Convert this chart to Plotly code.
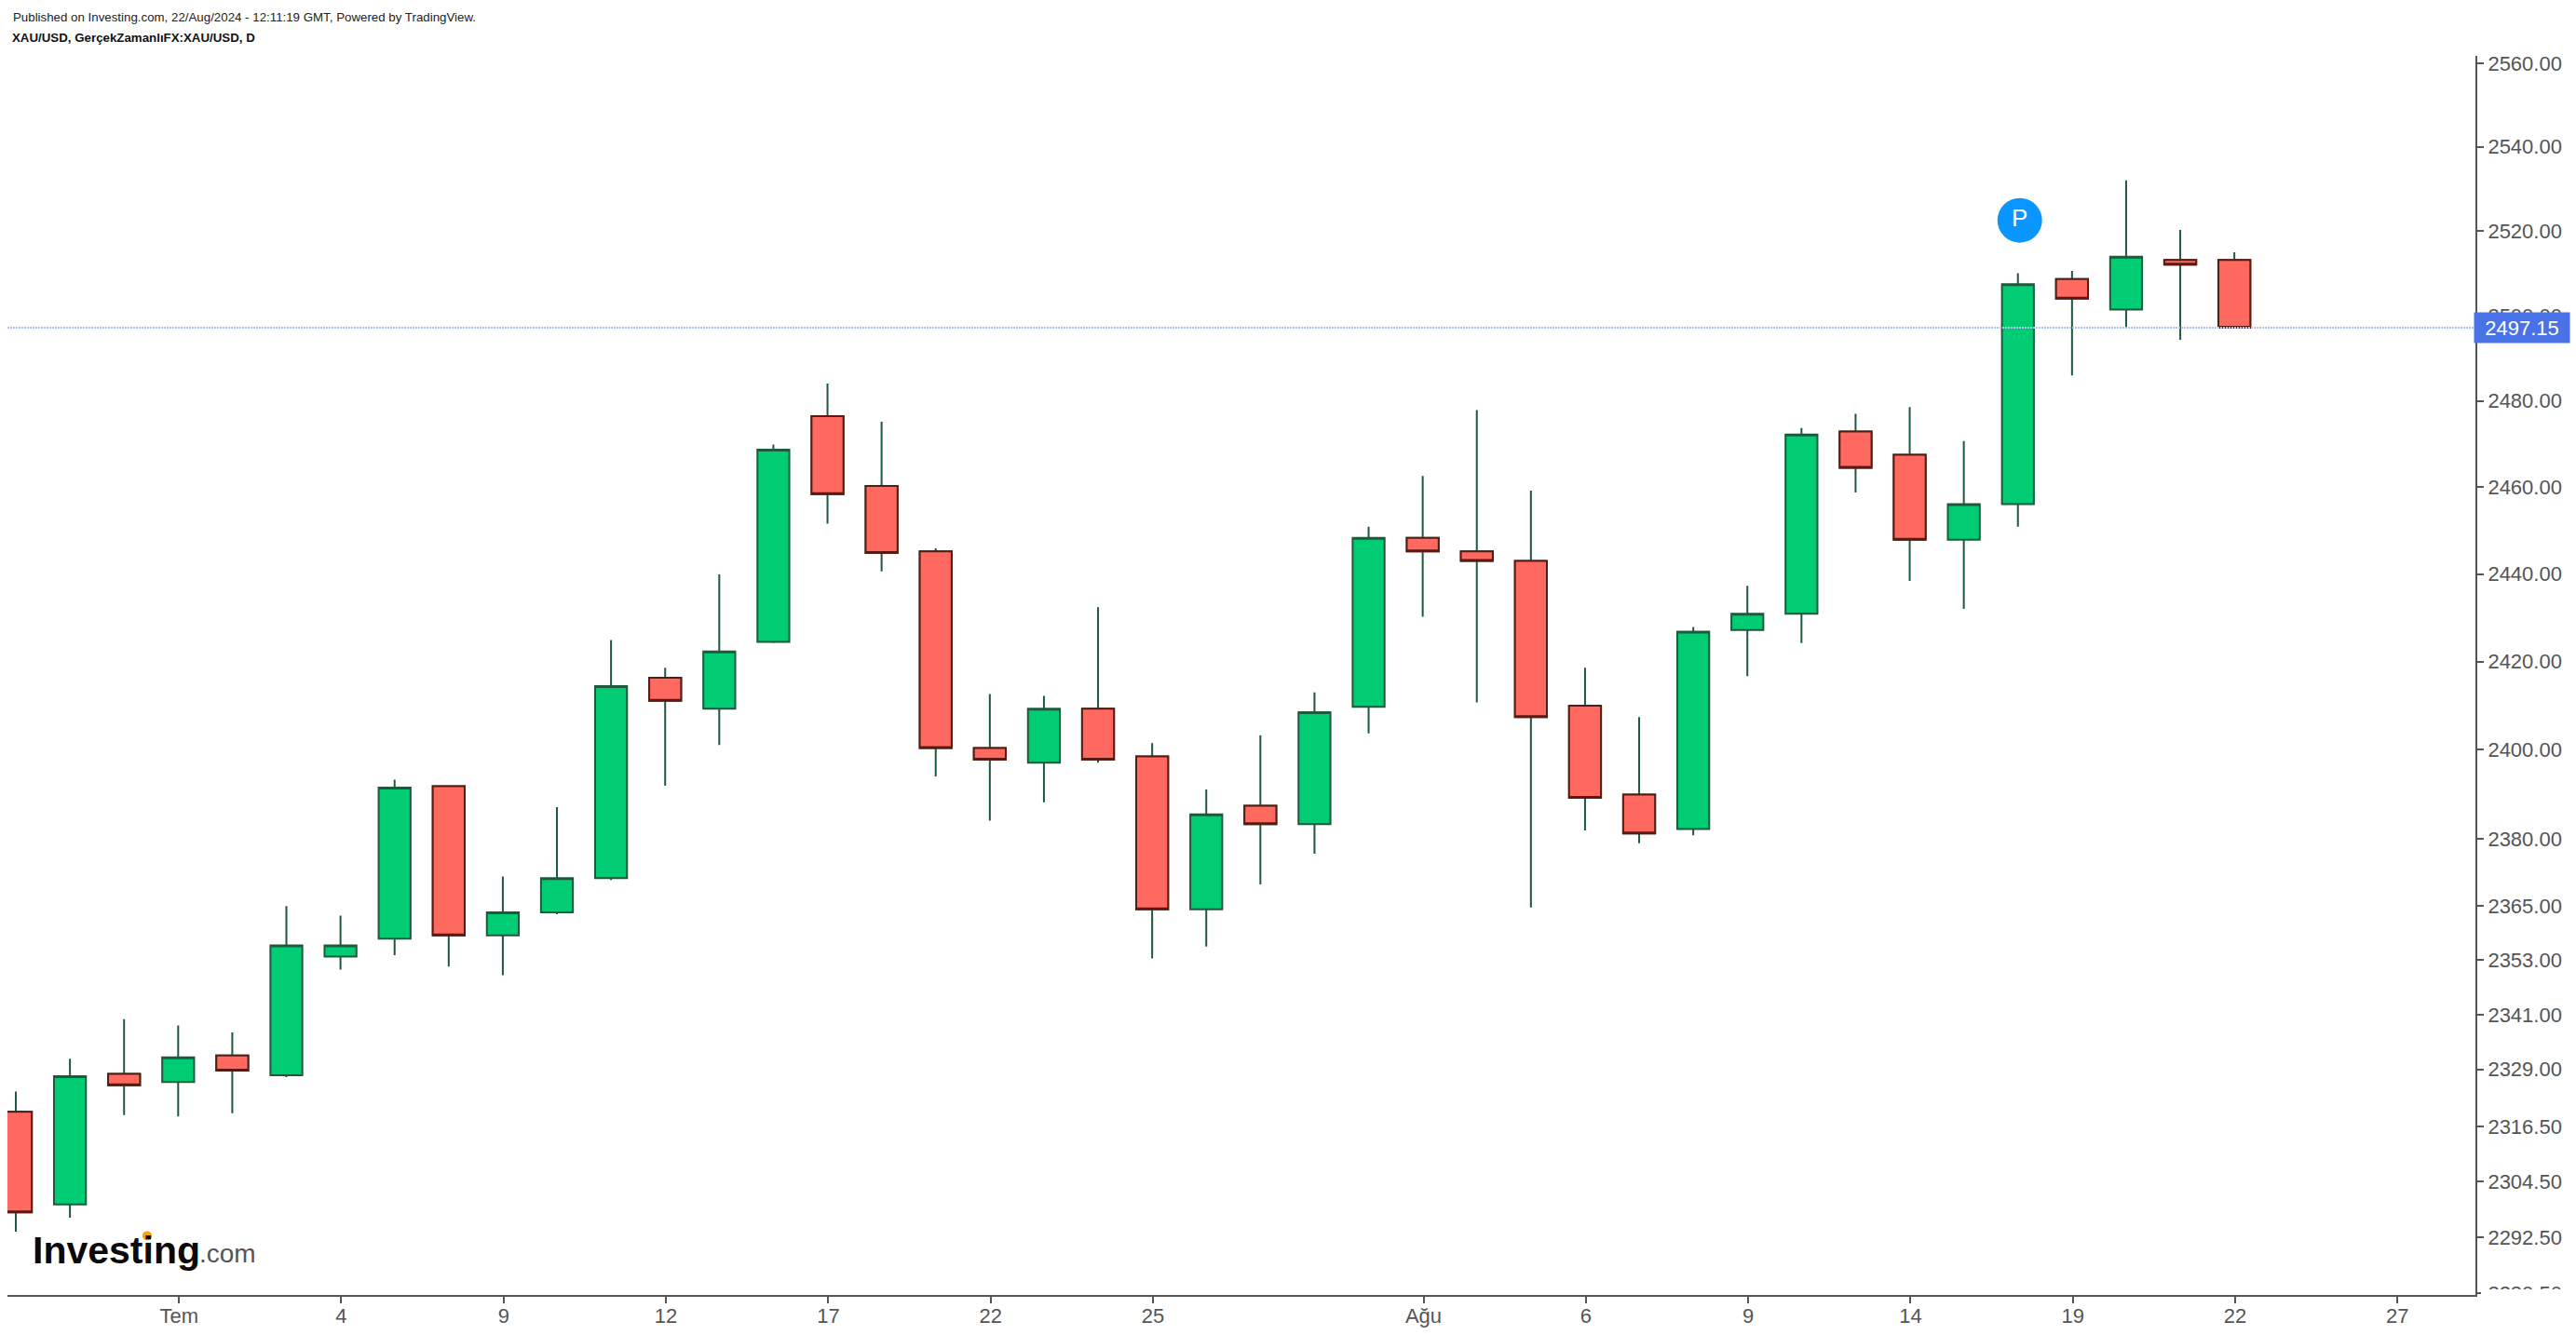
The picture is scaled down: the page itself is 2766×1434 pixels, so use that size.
import math
import pandas as pd
import plotly.graph_objects as go

W, H = 2766, 1434
L, R, T, B = 8, 2658, 60, 1399

# OHLC values (one per trading day, 26 Jun - 22 Aug 2024)
opens = [2319.7, 2299.6, 2328.0, 2326.2, 2332.0, 2327.7, 2353.8, 2357.8, 2391.8, 2358.5, 2363.6,
         2371.2, 2416.3, 2409.3, 2424.5, 2476.5, 2460.3, 2445.2, 2400.4, 2397.1, 2409.3,
         2398.5, 2364.3, 2387.4, 2383.3, 2409.7, 2448.3, 2445.2, 2443.0, 2410.0, 2389.9,
         2382.2, 2427.2, 2430.9, 2472.9, 2467.5, 2447.9, 2456.1, 2508.6, 2501.4, 2513.1, 2513.1]
highs = [2324.1, 2331.3, 2340.0, 2338.6, 2337.1, 2365.0, 2362.9, 2393.3, 2392.0, 2371.6, 2387.1,
         2424.9, 2418.6, 2439.9, 2469.9, 2484.1, 2475.2, 2445.9, 2412.6, 2412.2, 2432.4,
         2401.5, 2391.1, 2403.3, 2413.0, 2450.9, 2462.6, 2477.9, 2459.2, 2418.6, 2407.4,
         2427.9, 2437.3, 2473.7, 2477.0, 2478.6, 2470.7, 2510.0, 2510.5, 2532.0, 2520.2, 2514.9]
lows = [2293.7, 2296.7, 2319.0, 2318.7, 2319.4, 2327.3, 2350.9, 2354.1, 2351.6, 2349.7, 2363.2,
        2370.8, 2391.9, 2401.1, 2424.2, 2451.6, 2440.6, 2394.0, 2384.1, 2388.2, 2397.1,
        2353.4, 2356.0, 2369.8, 2376.7, 2403.7, 2430.2, 2410.7, 2364.7, 2381.9, 2379.0,
        2380.8, 2416.7, 2424.2, 2458.8, 2438.4, 2432.0, 2450.9, 2486.0, 2497.3, 2494.3, 2497.15]
closes = [2297.9, 2327.5, 2325.5, 2331.6, 2328.7, 2356.3, 2356.3, 2391.5, 2358.5, 2363.6, 2371.2,
          2414.4, 2411.1, 2422.3, 2468.7, 2458.4, 2444.8, 2400.4, 2397.8, 2409.3, 2397.8,
          2364.3, 2385.5, 2383.3, 2408.5, 2448.3, 2445.2, 2443.0, 2407.4, 2389.2, 2381.2,
          2426.8, 2430.9, 2472.2, 2464.5, 2447.9, 2456.1, 2507.4, 2504.0, 2513.9, 2512.0, 2497.15]

last_price = 2497.15
marker_day = "2024-08-16"
marker_price = 2522.5

y_ticks = [2560, 2540, 2520, 2500, 2480, 2460, 2440, 2420, 2400, 2380, 2365, 2353, 2341,
           2329, 2316.5, 2304.5, 2292.5, 2280.5]
x_tick_days = ["2024-07-01", "2024-07-04", "2024-07-09", "2024-07-12", "2024-07-17", "2024-07-22",
               "2024-07-25", "2024-08-01", "2024-08-06", "2024-08-09", "2024-08-14", "2024-08-19",
               "2024-08-22", "2024-08-27"]
x_tick_labels = ["Tem", "4", "9", "12", "17", "22", "25", "Ağu", "6", "9", "14", "19", "22", "27"]

# Colours
UP_FILL, UP_LINE = "#00CC73", "#1D5A3C"
DOWN_FILL, DOWN_LINE = "#FF6960", "#5A1A14"
AXIS = "#555555"
FONT = "Liberation Sans, Arial, sans-serif"

days = pd.bdate_range("2024-06-26", "2024-08-27")
pos = {d.strftime("%Y-%m-%d"): i for i, d in enumerate(days)}
xs = list(range(len(opens)))
TICK_SHIFT = 0.015


def px(x):
    return (x - L) / (R - L)


def py(y):
    return 1 - (y - T) / (B - T)


fig = go.Figure()

# all candles: wicks are dark green whichever way the day closed
fig.add_trace(go.Candlestick(
    x=xs, open=opens, high=highs, low=lows, close=closes,
    increasing=dict(line=dict(color=UP_LINE, width=2), fillcolor=UP_FILL),
    decreasing=dict(line=dict(color=UP_LINE, width=2), fillcolor=DOWN_FILL),
    whiskerwidth=0, hoverinfo="skip", showlegend=False))

# falling days: body outline in dark red, drawn on top
dn = [i for i in xs if closes[i] < opens[i]]
fig.add_trace(go.Candlestick(
    x=dn, open=[opens[i] for i in dn], close=[closes[i] for i in dn],
    high=[opens[i] for i in dn], low=[closes[i] for i in dn],
    decreasing=dict(line=dict(color=DOWN_LINE, width=2), fillcolor=DOWN_FILL),
    increasing=dict(line=dict(color=DOWN_LINE, width=2), fillcolor=DOWN_FILL),
    whiskerwidth=0, hoverinfo="skip", showlegend=False))

fig.add_trace(go.Scatter(
    x=[pos[marker_day] + 0.034], y=[marker_price], mode="markers+text", text=["P"],
    textposition="middle center", textfont=dict(color="white", size=26, family=FONT),
    marker=dict(size=48, color="#0A96FF", line=dict(width=0)),
    hoverinfo="skip", showlegend=False))

fig.update_layout(
    width=W, height=H, autosize=False,
    margin=dict(l=L, r=W - R, t=T, b=H - B, pad=0),
    paper_bgcolor="white", plot_bgcolor="white",
    boxmode="overlay", boxgap=0.157,
    font=dict(family=FONT, size=22, color=AXIS),
    showlegend=False,
    xaxis=dict(
        range=[-0.155, 45.455], rangeslider=dict(visible=False),
        tickmode="array", tickvals=[pos[d] + TICK_SHIFT for d in x_tick_days], ticktext=x_tick_labels,
        showgrid=False, zeroline=False, showline=True, linecolor=AXIS, linewidth=2,
        ticks="outside", ticklen=7, tickwidth=2, tickcolor=AXIS, ticklabelstandoff=-5,
        tickfont=dict(size=22, color=AXIS, family=FONT)),
    yaxis=dict(
        type="log", side="right", range=[math.log10(2280.1), math.log10(2561.8)],
        tickmode="array", tickvals=y_ticks, ticktext=[f"{v:.2f}" for v in y_ticks],
        showgrid=False, zeroline=False, showline=True, linecolor=AXIS, linewidth=2,
        ticks="outside", ticklen=7, tickwidth=2, tickcolor=AXIS,
        tickfont=dict(size=22, color=AXIS, family=FONT)),
    shapes=[
        dict(type="line", xref="paper", yref="y", x0=0, x1=px(2664), y0=last_price, y1=last_price,
             line=dict(color="#B3C3F0", width=2, dash="2px,1px"), layer="above"),
        dict(type="rect", xref="paper", yref="paper", x0=px(2664), x1=px(W), y0=py(H), y1=py(1393),
             fillcolor="white", line=dict(width=0), layer="above"),
        dict(type="circle", xref="paper", yref="paper", x0=px(153), x1=px(163), y0=py(1340), y1=py(1330),
             fillcolor="#F7A600", line=dict(width=0), layer="above"),
    ],
    annotations=[
        dict(text="Published on Investing.com, 22/Aug/2024 - 12:11:19 GMT, Powered by TradingView.",
             xref="paper", yref="paper", x=px(12), y=py(18), xanchor="left", yanchor="middle",
             showarrow=False, font=dict(size=13.3, color="#222222", family=FONT)),
        dict(text="<b>XAU/USD, GerçekZamanlıFX:XAU/USD, D</b>",
             xref="paper", yref="paper", x=px(11), y=py(40), xanchor="left", yanchor="middle",
             showarrow=False, font=dict(size=13.3, color="#111111", family=FONT)),
        dict(text=f"{last_price:.2f}", xref="paper", yref="paper", x=px(2656), y=py(354),
             xanchor="left", yanchor="middle", showarrow=False, align="center",
             bgcolor="#4A72E8", width=98, height=28, borderpad=2,
             font=dict(size=22, color="white", family=FONT)),
        dict(text="<b>Investing</b>", xref="paper", yref="paper", x=px(33), y=py(1351),
             xanchor="left", yanchor="middle", showarrow=False,
             font=dict(size=41, color="#0A0A0A", family=FONT)),
        dict(text=".com", xref="paper", yref="paper", x=px(212), y=py(1354),
             xanchor="left", yanchor="middle", showarrow=False,
             font=dict(size=28, color="#555555", family=FONT)),
    ],
)

fig.write_html("out.html", config=dict(displayModeBar=False),
               post_script="document.body.style.margin='0';document.body.style.overflow='hidden';")
